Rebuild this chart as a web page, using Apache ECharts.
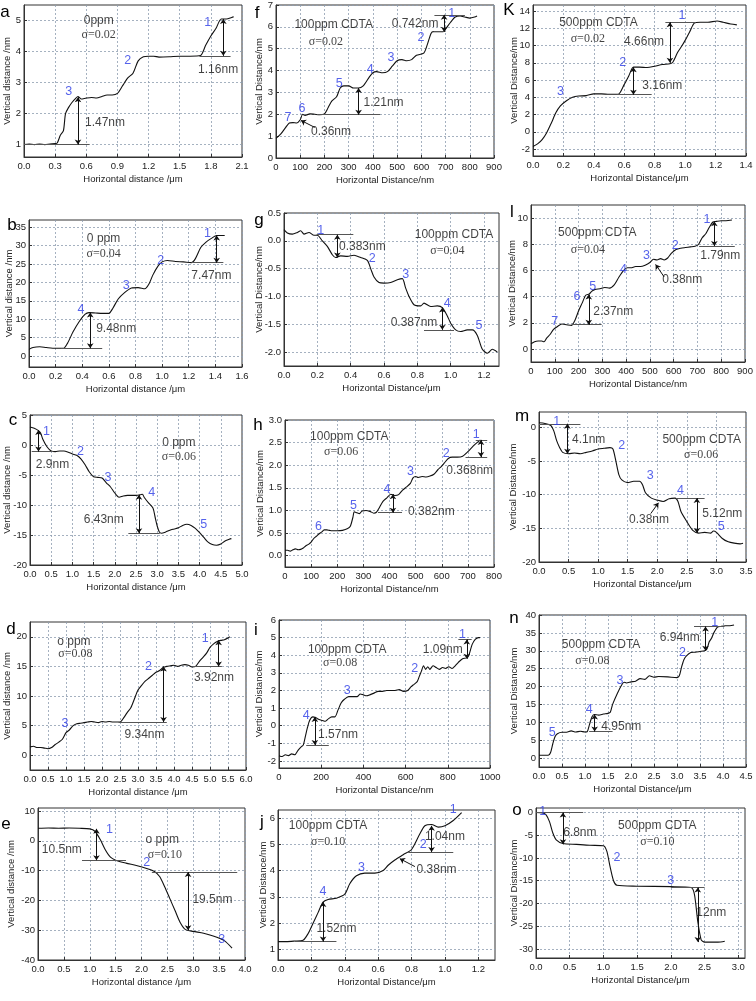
<!DOCTYPE html>
<html>
<head>
<meta charset="utf-8">
<script src="https://cdn.jsdelivr.net/npm/echarts@6.0.0/dist/echarts.min.js"></script>
<style>
html,body{margin:0;padding:0;background:#fff;}
#main{width:756px;height:1001px;}
</style>
</head>
<body>
<div id="main"></div>
<script>
// ---- panel a ----
const curveA = [[0,1.0],[0.05,1.02],[0.1,1.0],[0.15,1.02],[0.2,1.0],[0.25,1.02],[0.3,1.03],[0.32,1.05],[0.35,1.3],[0.38,1.45],[0.4,2.0],[0.43,2.2],[0.46,2.35],[0.5,2.5],[0.52,2.55],[0.55,2.47],[0.6,2.5],[0.65,2.52],[0.7,2.5],[0.75,2.55],[0.8,2.6],[0.85,2.6],[0.9,2.65],[0.95,2.9],[1.0,3.15],[1.05,3.3],[1.1,3.7],[1.15,3.83],[1.2,3.85],[1.25,3.85],[1.3,3.82],[1.4,3.83],[1.5,3.85],[1.6,3.85],[1.7,3.87],[1.75,4.2],[1.8,4.5],[1.85,4.75],[1.9,5.05],[1.95,5.05],[2.0,5.1],[2.02,5.12]];
const numsA = [[1.77,4.92,'1'],[1.0,3.71,'2'],[0.43,2.72,'3']];
const textA = [[1.87,3.41,'1.16nm'],[0.78,1.7,'1.47nm']];
const condA = [[0.72,5.0,'0ppm'],[0.72,4.55,'σ=0.02']];
const guideA = [[1.69,3.86,1.99,3.86],[0,1.0,0.63,1.0]];
const arrowA = [[1.92,5.05,3.86],[0.52,2.53,1.0]];
const xTicksA = [0,0.3,0.6,0.9,1.2,1.5,1.8,2.1];
const yTicksA = [1,2,3,4,5];

// ---- panel f ----
const curveF = [[0,0.9],[20,1.1],[40,1.4],[55,1.6],[70,1.62],[85,1.6],[100,1.75],[110,2.0],[120,1.95],[140,2.02],[160,2.0],[180,1.98],[200,2.02],[215,2.3],[230,2.6],[250,2.8],[265,3.2],[280,3.3],[300,3.3],[320,3.2],[340,3.2],[360,3.3],[385,3.7],[400,3.9],[415,3.95],[440,3.9],[460,3.95],[480,4.2],[500,4.45],[520,4.5],[540,4.45],[560,4.5],[580,4.7],[610,4.8],[625,5.2],[640,5.7],[650,5.78],[670,5.78],[690,5.78],[700,5.9],[720,6.2],[740,6.45],[760,6.5],[780,6.45],[800,6.4],[820,6.45],[830,6.5]];
const numsF = [[725,6.62,'1'],[599,5.52,'2'],[475,4.61,'3'],[389,4.03,'4'],[261,3.42,'5'],[107,2.28,'6'],[49,1.87,'7']];
const textF = [[574,6.16,'0.742nm'],[444,2.51,'1.21nm'],[227,1.22,'0.36nm']];
const condF = [[238,6.09,'100ppm CDTA'],[206,5.33,'σ=0.02']];
const guideF = [[654,6.55,780,6.55],[650,5.78,700,5.78],[169,1.98,430,1.98]];
const arrowF = [[694,6.55,5.78],[341,3.2,1.98]];
const pointF = [[160,1.4,103,1.72]];
const xTicksF = [0,100,200,300,400,500,600,700,800,900];
const yTicksF = [0,1,2,3,4,5,6,7];

// ---- panel K ----
const curveK = [[0,-1.7],[0.03,-1.4],[0.06,-0.9],[0.09,-0.1],[0.12,1.0],[0.15,2.2],[0.18,3.0],[0.22,3.6],[0.26,4.0],[0.3,4.15],[0.35,4.2],[0.4,4.4],[0.45,4.4],[0.5,4.35],[0.56,4.35],[0.6,5.5],[0.63,6.5],[0.66,7.5],[0.7,7.5],[0.75,7.45],[0.8,7.6],[0.85,7.8],[0.9,7.9],[0.92,8.1],[0.95,9.2],[0.98,10.0],[1.0,10.6],[1.03,11.6],[1.06,12.6],[1.1,12.7],[1.15,12.7],[1.21,12.85],[1.25,12.7],[1.3,12.5],[1.34,12.4]];
const numsK = [[0.98,13.5,'1'],[0.59,8.0,'2'],[0.18,4.7,'3']];
const textK = [[0.73,10.4,'4.66nm'],[0.85,5.4,'3.16nm']];
const condK = [[0.43,12.6,'500ppm CDTA'],[0.36,10.8,'σ=0.02']];
const guideK = [[0.87,12.7,1.07,12.7],[0.55,4.3,0.78,4.3]];
const arrowK = [[0.9,12.7,8.0],[0.66,7.5,4.3]];
const xTicksK = [0,0.2,0.4,0.6,0.8,1.0,1.2,1.4];
const yTicksK = [-2,0,2,4,6,8,10,12,14];

// ---- panel b ----
const curveB = [[0,1.8],[0.03,2.3],[0.08,2.5],[0.13,2.3],[0.2,2.1],[0.26,2.1],[0.29,3.5],[0.33,6.5],[0.38,9.5],[0.42,11.3],[0.45,11.8],[0.5,11.7],[0.55,11.6],[0.6,11.6],[0.63,13.0],[0.67,15.5],[0.72,17.3],[0.77,18.5],[0.82,18.6],[0.87,18.3],[0.9,19.5],[0.93,22.0],[0.97,24.5],[1.0,25.6],[1.04,26.0],[1.1,25.7],[1.16,25.6],[1.22,25.4],[1.25,26.5],[1.29,29.5],[1.33,31.0],[1.37,32.0],[1.41,32.8],[1.47,32.8]];
const numsB = [[1.34,33.2,'1'],[0.99,26.1,'2'],[0.73,19.3,'3'],[0.39,12.5,'4']];
const textB = [[1.37,21.8,'7.47nm'],[0.655,7.3,'9.48nm']];
const condB = [[0.56,31.8,'0 ppm'],[0.56,27.7,'σ=0.04']];
const guideB = [[1.22,25.4,1.46,25.4],[0.24,2.1,0.55,2.1]];
const arrowB = [[1.41,32.8,25.4],[0.46,11.8,2.1]];
const xTicksB = [0,0.2,0.4,0.6,0.8,1.0,1.2,1.4,1.6];
const yTicksB = [0,5,10,15,20,25,30,35];

// ---- panel g ----
const curveG = [[0,0.2],[0.02,0.14],[0.05,0.12],[0.08,0.15],[0.1,0.18],[0.12,0.12],[0.15,0.15],[0.18,0.1],[0.2,0.1],[0.23,0.0],[0.26,-0.1],[0.29,-0.25],[0.31,-0.3],[0.34,-0.27],[0.38,-0.28],[0.42,-0.26],[0.46,-0.3],[0.5,-0.35],[0.52,-0.5],[0.54,-0.65],[0.57,-0.75],[0.6,-0.76],[0.64,-0.75],[0.68,-0.7],[0.71,-0.68],[0.73,-0.85],[0.75,-1.0],[0.78,-1.15],[0.82,-1.17],[0.84,-1.12],[0.88,-1.18],[0.92,-1.17],[0.95,-1.2],[0.98,-1.35],[1.0,-1.48],[1.03,-1.6],[1.06,-1.63],[1.1,-1.6],[1.13,-1.6],[1.16,-1.7],[1.19,-1.95],[1.22,-2.02],[1.25,-1.95],[1.28,-2.0]];
const numsG = [[0.22,0.19,'1'],[0.53,-0.32,'2'],[0.73,-0.61,'3'],[0.98,-1.12,'4'],[1.17,-1.52,'5']];
const textG = [[0.47,-0.1,'0.383nm'],[0.78,-1.47,'0.387nm']];
const condG = [[1.02,0.11,'100ppm CDTA'],[0.98,-0.18,'σ=0.04']];
const guideG = [[0.196,0.11,0.416,0.11],[0.84,-1.6,1.02,-1.6]];
const arrowG = [[0.32,0.11,-0.3],[0.95,-1.2,-1.6]];
const xTicksG = [0,0.2,0.4,0.6,0.8,1.0,1.2];
const yTicksG = [-2.0,-1.5,-1.0,-0.5,0.0,0.5];

// ---- panel l ----
const curveL = [[0,0.4],[15,0.55],[30,0.6],[45,0.6],[55,0.55],[65,0.8],[80,1.1],[95,1.5],[110,1.7],[130,1.9],[150,1.85],[170,1.8],[185,2.2],[200,2.9],[215,3.5],[230,4.1],[245,4.2],[255,4.4],[270,4.55],[290,4.6],[310,4.7],[330,4.65],[350,4.9],[370,5.5],[390,6.0],[405,6.2],[420,6.2],[440,6.3],[460,6.3],[480,6.4],[500,6.6],[515,6.85],[530,6.8],[545,6.9],[560,6.8],[575,6.95],[590,7.3],[610,7.6],[630,7.7],[650,7.75],[670,7.8],[690,7.85],[705,8.0],[720,8.5],[735,8.8],[750,9.3],[765,9.7],[780,9.75],[800,9.8],[820,9.8],[845,9.85]];
const numsL = [[740,9.9,'1'],[607,7.9,'2'],[486,7.15,'3'],[389,6.1,'4'],[260,4.74,'5'],[193,4.03,'6'],[100,2.1,'7']];
const textL = [[796,7.1,'1.79nm'],[636,5.26,'0.38nm'],[346,2.87,'2.37nm']];
const condL = [[279,8.9,'500ppm CDTA'],[239,7.6,'σ=0.04']];
const guideL = [[707,7.87,857,7.87],[171,1.85,297,1.85]];
const arrowL = [[771,9.75,7.87],[243,4.15,1.85]];
const pointL = [[560,5.5,524,6.46]];
const xTicksL = [0,100,200,300,400,500,600,700,800,900];
const yTicksL = [0,2,4,6,8,10];

// ---- panel c ----
const curveC = [[0,3.0],[0.1,2.8],[0.2,2.4],[0.25,2.0],[0.3,1.0],[0.4,-0.3],[0.5,-1.0],[0.6,-1.1],[0.7,-1.0],[0.8,-1.0],[0.9,-1.2],[1.0,-1.5],[1.1,-1.7],[1.2,-2.3],[1.3,-3.3],[1.4,-4.5],[1.5,-5.3],[1.6,-5.4],[1.7,-5.5],[1.8,-6.3],[1.9,-7.0],[2.0,-8.0],[2.1,-8.7],[2.2,-8.5],[2.3,-8.4],[2.4,-8.4],[2.5,-8.4],[2.6,-8.3],[2.65,-8.2],[2.7,-8.8],[2.8,-9.7],[2.9,-10.5],[2.95,-12.0],[3.0,-13.5],[3.05,-14.5],[3.1,-14.7],[3.2,-14.5],[3.3,-14.2],[3.4,-14.0],[3.5,-13.8],[3.6,-13.4],[3.7,-13.2],[3.8,-13.4],[3.9,-13.9],[4.0,-14.6],[4.1,-15.4],[4.2,-16.2],[4.3,-16.6],[4.4,-16.7],[4.5,-16.5],[4.6,-16.0],[4.7,-15.7],[4.75,-15.6]];
const numsC = [[0.39,2.2,'1'],[1.19,-1.1,'2'],[1.84,-5.4,'3'],[2.87,-7.9,'4'],[4.1,-13.2,'5']];
const textC = [[0.53,-3.2,'2.9nm'],[1.74,-12.4,'6.43nm']];
const condC = [[3.51,0.4,'0 ppm'],[3.51,-1.9,'σ=0.06']];
const guideC = [[0.04,-1.1,0.55,-1.1],[2.32,-14.7,3.06,-14.7]];
const arrowC = [[0.2,2.5,-1.1],[2.57,-8.3,-14.7]];
const xTicksC = [0,0.5,1.0,1.5,2.0,2.5,3.0,3.5,4.0,4.5,5.0];
const yTicksC = [-20,-15,-10,-5,0,5];

// ---- panel h ----
const curveH = [[0,0.12],[10,0.12],[20,0.1],[30,0.13],[40,0.15],[50,0.13],[60,0.14],[70,0.17],[80,0.22],[90,0.25],[100,0.3],[110,0.38],[120,0.43],[130,0.48],[140,0.52],[150,0.57],[160,0.57],[170,0.56],[180,0.55],[200,0.55],[220,0.56],[240,0.6],[250,0.65],[260,0.85],[265,0.97],[275,0.95],[285,0.93],[295,0.99],[310,1.0],[325,0.98],[340,0.94],[350,0.96],[360,1.05],[375,1.2],[390,1.28],[405,1.36],[420,1.33],[435,1.35],[450,1.45],[465,1.52],[480,1.6],[490,1.72],[500,1.75],[510,1.73],[525,1.75],[540,1.74],[555,1.76],[570,1.8],[585,1.9],[600,1.98],[610,2.05],[625,2.15],[640,2.18],[660,2.18],[680,2.2],[700,2.3],[720,2.42],[735,2.5],[748,2.56]];
const numsH = [[732,2.68,'1'],[617,2.26,'2'],[480,1.87,'3'],[390,1.47,'4'],[262,1.11,'5'],[128,0.65,'6']];
const textH = [[707,1.87,'0.368nm'],[560,0.98,'0.382nm']];
const condH = [[246,2.63,'100ppm CDTA'],[215,2.3,'σ=0.06']];
const guideH = [[691,2.18,774,2.18],[730,2.56,774,2.56],[356,0.95,448,0.95]];
const arrowH = [[750,2.56,2.18],[413,1.36,0.95]];
const xTicksH = [0,100,200,300,400,500,600,700,800];
const yTicksH = [0,0.5,1.0,1.5,2.0,2.5,3.0];

// ---- panel m ----
const curveM = [[0,0.7],[0.1,0.6],[0.2,0.3],[0.25,-0.5],[0.3,-2.0],[0.35,-3.0],[0.4,-3.7],[0.5,-3.9],[0.6,-3.8],[0.7,-3.9],[0.8,-3.7],[0.9,-3.5],[1.0,-3.2],[1.1,-3.1],[1.2,-3.0],[1.25,-3.2],[1.3,-5.0],[1.35,-7.0],[1.4,-7.8],[1.5,-8.2],[1.6,-8.0],[1.7,-8.0],[1.75,-8.5],[1.8,-9.7],[1.9,-10.5],[2.0,-10.8],[2.1,-11.0],[2.2,-10.6],[2.3,-10.5],[2.35,-11.0],[2.4,-12.5],[2.5,-14.0],[2.6,-15.3],[2.7,-15.7],[2.8,-15.6],[2.9,-15.7],[2.95,-15.4],[3.0,-15.6],[3.1,-16.5],[3.2,-17.0],[3.3,-17.2],[3.4,-17.3],[3.45,-17.2]];
const numsM = [[0.3,0.84,'1'],[1.4,-2.7,'2'],[1.88,-7.2,'3'],[2.39,-9.4,'4'],[3.08,-14.8,'5']];
const textM = [[0.84,-1.8,'4.1nm'],[1.86,-13.7,'0.38nm'],[3.1,-12.8,'5.12nm']];
const condM = [[2.75,-1.8,'500ppm CDTA'],[2.74,-4.0,'σ=0.06']];
const guideM = [[0,0.55,0.7,0.55],[2.32,-10.5,2.8,-10.5]];
const arrowM = [[0.48,0.55,-3.9],[2.67,-10.5,-15.7]];
const pointM = [[1.89,-12.8,2.02,-11.2]];
const xTicksM = [0,0.5,1.0,1.5,2.0,2.5,3.0,3.5];
const yTicksM = [-20,-15,-10,-5,0];

// ---- panel d ----
const curveD = [[0,1.4],[0.1,1.5],[0.2,1.3],[0.3,1.3],[0.4,1.2],[0.5,1.1],[0.6,1.3],[0.7,1.8],[0.8,2.2],[0.9,2.7],[1.0,3.8],[1.1,4.3],[1.2,5.0],[1.3,5.3],[1.4,5.4],[1.5,5.5],[1.6,5.6],[1.7,5.7],[1.8,5.6],[1.9,5.5],[2.0,5.7],[2.1,5.6],[2.2,5.7],[2.3,5.6],[2.5,5.6],[2.6,6.3],[2.7,7.2],[2.8,8.0],[2.9,9.5],[3.0,11.0],[3.1,11.8],[3.2,12.5],[3.3,13.0],[3.4,13.5],[3.5,14.0],[3.6,14.3],[3.7,14.8],[3.8,15.0],[3.9,15.1],[4.0,15.2],[4.1,15.0],[4.2,15.2],[4.3,15.3],[4.4,15.2],[4.5,14.9],[4.6,15.0],[4.7,15.8],[4.8,16.5],[4.9,17.2],[5.0,18.2],[5.1,18.8],[5.2,19.2],[5.3,19.4],[5.4,19.5],[5.5,19.8],[5.55,20.0]];
const numsD = [[4.87,19.7,'1'],[3.29,14.9,'2'],[0.97,5.4,'3']];
const textD = [[5.11,13.1,'3.92nm'],[3.18,3.4,'9.34nm']];
const condD = [[1.22,19.2,'o ppm'],[1.26,17.1,'σ=0.08']];
const guideD = [[4.55,15.0,5.33,15.0],[2.46,5.6,3.8,5.6]];
const arrowD = [[5.24,19.4,15.0],[3.71,15.0,5.6]];
const xTicksD = [0,0.5,1.0,1.5,2.0,2.5,3.0,3.5,4.0,4.5,5.0,5.5,6.0];
const yTicksD = [0,5,10,15,20];

// ---- panel i ----
const curveI = [[0,-1.7],[15,-1.75],[30,-1.65],[45,-1.7],[60,-1.6],[75,-1.65],[90,-1.4],[105,-1.2],[115,-1.1],[125,-0.6],[135,-0.1],[145,0.3],[160,0.5],[175,0.45],[190,0.35],[205,0.3],[220,0.25],[235,0.4],[250,0.5],[265,0.5],[280,0.9],[295,1.3],[310,1.5],[330,1.65],[350,1.65],[370,1.65],[385,1.8],[400,1.75],[415,1.7],[430,1.75],[450,1.85],[470,1.95],[490,1.95],[510,2.0],[530,2.0],[550,2.0],[570,2.05],[590,1.95],[610,2.0],[625,2.2],[640,2.35],[655,2.5],[665,2.8],[675,3.1],[685,3.4],[695,3.2],[705,3.35],[715,3.2],[730,3.4],[745,3.3],[760,3.2],[775,3.3],[790,3.25],[805,3.35],[820,3.25],[835,3.4],[850,3.6],[870,3.8],[890,3.85],[900,4.0],[915,4.6],[930,4.9],[945,5.0],[953,5.0]];
const numsI = [[869,5.2,'1'],[643,3.26,'2'],[323,2.0,'3'],[129,0.58,'4']];
const textI = [[776,4.34,'1.09nm'],[280,-0.52,'1.57nm']];
const condI = [[323,4.34,'100ppm CDTA'],[290,3.54,'σ=0.08']];
const guideI = [[850,4.9,913,4.9],[129,-1.1,236,-1.1]];
const arrowI = [[890,4.9,3.8],[170,0.5,-1.1]];
const xTicksI = [0,200,400,600,800,1000];
const yTicksI = [-2,-1,0,1,2,3,4,5,6];

// ---- panel n ----
const curveN = [[0,0.8],[0.1,0.8],[0.2,0.8],[0.25,1.5],[0.3,4.0],[0.35,6.0],[0.4,6.8],[0.5,7.2],[0.6,7.2],[0.7,7.6],[0.8,7.3],[0.9,7.5],[1.0,7.3],[1.05,7.4],[1.1,9.5],[1.15,11.5],[1.2,12.2],[1.3,12.0],[1.4,12.3],[1.5,12.5],[1.55,12.8],[1.6,15.0],[1.7,18.0],[1.8,20.5],[1.85,21.2],[1.9,21.0],[2.0,21.3],[2.1,21.5],[2.2,22.2],[2.3,22.0],[2.4,23.0],[2.5,22.6],[2.6,22.8],[2.8,22.7],[3.0,22.5],[3.05,23.0],[3.1,25.5],[3.15,27.5],[3.2,28.5],[3.3,29.5],[3.4,29.6],[3.5,29.8],[3.6,30.0],[3.65,30.5],[3.7,32.5],[3.75,33.5],[3.8,35.0],[3.88,36.6],[3.95,36.8],[4.05,37.0],[4.15,37.0],[4.24,37.2]];
const numsN = [[3.82,37.8,'1'],[3.12,29.6,'2'],[1.76,21.7,'3'],[1.09,13.5,'4'],[0.29,7.2,'5']];
const textN = [[3.06,33.6,'6.94nm'],[1.79,8.9,'4.95nm']];
const condN = [[1.35,31.8,'500ppm CDTA'],[1.16,27.1,'σ=0.08']];
const guideN = [[3.37,36.8,4.03,36.8],[1.09,7.4,1.6,7.4]];
const arrowN = [[3.62,36.8,30.0],[1.21,12.2,7.4]];
const xTicksN = [0,0.5,1.0,1.5,2.0,2.5,3.0,3.5,4.0,4.5];
const yTicksN = [0,5,10,15,20,25,30,35,40];

// ---- panel e ----
const curveE = [[0,4.2],[0.2,4.3],[0.4,4.2],[0.6,4.3],[0.8,4.2],[1.0,4.0],[1.1,3.2],[1.2,0.5],[1.3,-3.0],[1.4,-5.5],[1.5,-6.5],[1.7,-7.5],[1.9,-8.3],[2.1,-9.3],[2.25,-10.3],[2.35,-12.0],[2.45,-15.5],[2.55,-19.5],[2.65,-23.5],[2.75,-27.5],[2.85,-29.8],[3.0,-30.4],[3.2,-31.0],[3.4,-32.0],[3.6,-33.5],[3.75,-36.0]];
const numsE = [[1.38,3.7,'1'],[2.1,-7.2,'2'],[3.55,-33.3,'3']];
const textE = [[0.46,-3.0,'10.5nm'],[3.37,-19.7,'19.5nm']];
const condE = [[2.4,0.3,'o ppm'],[2.45,-4.7,'σ=0.10']];
const guideE = [[0.85,-6.5,1.7,-6.5],[2.2,-10.5,3.85,-10.5]];
const arrowE = [[1.13,4.0,-6.5],[2.9,-10.5,-30.0]];
const xTicksE = [0,0.5,1.0,1.5,2.0,2.5,3.0,3.5,4.0];
const yTicksE = [-40,-30,-20,-10,0,10];

// ---- panel j ----
const curveJ = [[0,1.3],[0.05,1.3],[0.1,1.32],[0.15,1.35],[0.18,1.6],[0.21,2.0],[0.24,2.4],[0.27,2.8],[0.3,2.9],[0.35,2.95],[0.4,3.1],[0.43,3.5],[0.47,3.8],[0.52,3.9],[0.58,3.9],[0.63,4.0],[0.66,4.2],[0.7,4.4],[0.75,4.6],[0.8,4.8],[0.85,5.4],[0.88,5.7],[0.92,5.75],[0.96,5.65],[1.0,5.7],[1.05,5.9],[1.1,6.2]];
const numsJ = [[1.05,6.3,'1'],[0.87,5.0,'2'],[0.5,4.1,'3'],[0.27,3.2,'4']];
const textJ = [[0.35,1.8,'1.52nm'],[1.0,5.3,'1.04nm'],[0.95,4.05,'0.38nm']];
const condJ = [[0.3,5.7,'100ppm CDTA'],[0.3,5.1,'σ=0.10']];
const guideJ = [[0.1,1.3,0.35,1.3],[0.78,4.7,1.05,4.7]];
const arrowJ = [[0.27,2.8,1.3],[0.92,5.7,4.7]];
const pointJ = [[0.82,4.15,0.73,4.45]];
const xTicksJ = [0,0.2,0.4,0.6,0.8,1.0,1.2];
const yTicksJ = [1,2,3,4,5,6];

// ---- panel o ----
const curveO = [[0,0],[0.1,-0.1],[0.15,-0.5],[0.2,-2],[0.25,-4.5],[0.3,-6],[0.4,-6.8],[0.6,-7],[0.8,-7.2],[1.0,-7.3],[1.05,-8.5],[1.1,-12],[1.15,-15],[1.2,-16],[1.5,-16.2],[2.0,-16.3],[2.3,-16.5],[2.35,-18],[2.4,-24],[2.45,-28],[2.5,-28.5],[2.7,-28.5],[2.8,-28.3]];
const numsO = [[0.1,0.3,'1'],[1.2,-10,'2'],[2.0,-15,'3']];
const textO = [[0.65,-4.5,'6.8nm'],[2.6,-22,'12nm']];
const condO = [[1.8,-3,'500ppm CDTA'],[1.8,-6.5,'σ=0.10']];
const guideO = [[0,0,0.7,0],[2.0,-16.5,2.5,-16.5]];
const arrowO = [[0.4,0,-7],[2.4,-16.5,-28.5]];
const xTicksO = [0,0.5,1.0,1.5,2.0,2.5,3.0];
const yTicksO = [-30,-25,-20,-15,-10,-5,0];

const xNameLow = 'Horizontal distance /μm';
const xNameNm = 'Horizontal Distance/nm';
const xNameUm = 'Horizontal Distance/μm';
const yNameLow = 'Vertical distance /nm';
const yNameUp = 'Vertical Distance/nm';

const sans = 'Liberation Sans, Arial, sans-serif';
const serif = 'Liberation Serif, Times New Roman, serif';

// layout: box = [left, top, width, height], letter = [x, y]
const panels = [
  {id:'a', box:[24,5,218,152], letter:[5,12], curve:curveA, nums:numsA, notes:textA, cond:condA, guides:guideA, arrows:arrowA, points:[], xr:[0,2.1], yr:[0.6,5.5], xt:xTicksA, yt:yTicksA, xd:1, yd:0, xn:xNameLow, yn:yNameLow, yg:12},
  {id:'f', box:[276,5,218,153], letter:[257,13], curve:curveF, nums:numsF, notes:textF, cond:condF, guides:guideF, arrows:arrowF, points:pointF, xr:[0,900], yr:[0,7], xt:xTicksF, yt:yTicksF, xd:0, yd:0, xn:xNameNm, yn:yNameUp, yg:12},
  {id:'K', box:[533,5,213,151], letter:[509,10], curve:curveK, nums:numsK, notes:textK, cond:condK, guides:guideK, arrows:arrowK, points:[], xr:[0,1.4], yr:[-2.8,14.7], xt:xTicksK, yt:yTicksK, xd:1, yd:0, xn:xNameUm, yn:yNameUp, yg:14},
  {id:'b', box:[29,220,213,147], letter:[12,225], curve:curveB, nums:numsB, notes:textB, cond:condB, guides:guideB, arrows:arrowB, points:[], xr:[0,1.6], yr:[-3,37], xt:xTicksB, yt:yTicksB, xd:1, yd:0, xn:xNameLow, yn:yNameLow, yg:15},
  {id:'g', box:[284,213,215,153], letter:[259,220], curve:curveG, nums:numsG, notes:textG, cond:condG, guides:guideG, arrows:arrowG, points:[], xr:[0,1.29], yr:[-2.25,0.5], xt:xTicksG, yt:yTicksG, xd:1, yd:1, xn:xNameUm, yn:yNameUp, yg:20},
  {id:'l', box:[531,205,214,157], letter:[512,212], curve:curveL, nums:numsL, notes:textL, cond:condL, guides:guideL, arrows:arrowL, points:pointL, xr:[0,900], yr:[-1,11], xt:xTicksL, yt:yTicksL, xd:0, yd:0, xn:xNameNm, yn:yNameUp, yg:14},
  {id:'c', box:[30,415,212,150], letter:[13,420], curve:curveC, nums:numsC, notes:textC, cond:condC, guides:guideC, arrows:arrowC, points:[], xr:[0,5], yr:[-20,5], xt:xTicksC, yt:yTicksC, xd:1, yd:0, xn:xNameLow, yn:yNameLow, yg:18},
  {id:'h', box:[285,420,209,147], letter:[258,425], curve:curveH, nums:numsH, notes:textH, cond:condH, guides:guideH, arrows:arrowH, points:[], xr:[0,800], yr:[-0.25,3.0], xt:xTicksH, yt:yTicksH, xd:0, yd:1, xn:xNameNm, yn:yNameUp, yg:20},
  {id:'m', box:[539,412,207,150], letter:[522,416], curve:curveM, nums:numsM, notes:textM, cond:condM, guides:guideM, arrows:arrowM, points:pointM, xr:[0,3.5], yr:[-20,2.3], xt:xTicksM, yt:yTicksM, xd:1, yd:0, xn:xNameUm, yn:yNameUp, yg:21},
  {id:'d', box:[30,622,216,148], letter:[11,629], curve:curveD, nums:numsD, notes:textD, cond:condD, guides:guideD, arrows:arrowD, points:[], xr:[0,6], yr:[-2.5,22.5], xt:xTicksD, yt:yTicksD, xd:1, yd:0, xn:xNameLow, yn:yNameLow, yg:18},
  {id:'i', box:[279,620,211,148], letter:[256,630], curve:curveI, nums:numsI, notes:textI, cond:condI, guides:guideI, arrows:arrowI, points:[], xr:[0,1000], yr:[-2.4,6], xt:xTicksI, yt:yTicksI, xd:0, yd:0, xn:xNameNm, yn:yNameUp, yg:15},
  {id:'n', box:[539,615,207,152], letter:[514,618], curve:curveN, nums:numsN, notes:textN, cond:condN, guides:guideN, arrows:arrowN, points:[], xr:[0,4.5], yr:[-2.5,40], xt:xTicksN, yt:yTicksN, xd:1, yd:0, xn:xNameUm, yn:yNameUp, yg:20},
  {id:'e', box:[38,808,207,152], letter:[6,824], curve:curveE, nums:numsE, notes:textE, cond:condE, guides:guideE, arrows:arrowE, points:[], xr:[0,4], yr:[-40,11], xt:xTicksE, yt:yTicksE, xd:1, yd:0, xn:xNameLow, yn:yNameLow, yg:22},
  {id:'j', box:[278,810,217,150], letter:[262,822], curve:curveJ, nums:numsJ, notes:textJ, cond:condJ, guides:guideJ, arrows:arrowJ, points:pointJ, xr:[0,1.3], yr:[0.6,6.3], xt:xTicksJ, yt:yTicksJ, xd:1, yd:0, xn:xNameUm, yn:yNameUp, yg:10},
  {id:'o', box:[536,808,209,150], letter:[517,810], curve:curveO, nums:numsO, notes:textO, cond:condO, guides:guideO, arrows:arrowO, points:[], xr:[0,3.1], yr:[-32,1], xt:xTicksO, yt:yTicksO, xd:1, yd:0, xn:xNameUm, yn:yNameUp, yg:17}
];

const grids = [], xAxes = [], yAxes = [], series = [], graphics = [];
const splitStyle = {color:'#8e9eb0', type:[2,2], width:0.8};

panels.forEach((p, i) => {
  grids.push({left:p.box[0], top:p.box[1], width:p.box[2], height:p.box[3], show:true,
    borderColor:'#333', borderWidth:1, backgroundColor:'transparent', containLabel:false, outerBoundsMode:'none'});
  xAxes.push({gridIndex:i, type:'value', min:p.xr[0], max:p.xr[1],
    name:p.xn, nameLocation:'middle', nameGap:17, nameMoveOverlap:false,
    nameTextStyle:{fontSize:9.5, color:'#222', fontFamily:sans},
    axisLine:{show:true, onZero:false, lineStyle:{color:'#333'}},
    axisTick:{show:true, inside:true, length:3, customValues:p.xt, lineStyle:{color:'#333'}},
    axisLabel:{customValues:p.xt, formatter:v => Number(v).toFixed(p.xd), fontSize:9.5, color:'#222', margin:4, fontFamily:sans},
    splitLine:{show:true, lineStyle:splitStyle}});
  yAxes.push({gridIndex:i, type:'value', min:p.yr[0], max:p.yr[1],
    name:p.yn, nameLocation:'middle', nameRotate:90, nameGap:p.yg, nameMoveOverlap:false,
    nameTextStyle:{fontSize:9.5, color:'#222', fontFamily:sans},
    axisLine:{show:true, onZero:false, lineStyle:{color:'#333'}},
    axisTick:{show:true, inside:true, length:3, customValues:p.yt, lineStyle:{color:'#333'}},
    axisLabel:{customValues:p.yt, formatter:v => Number(v).toFixed(p.yd), fontSize:9.5, color:'#222', margin:3, fontFamily:sans},
    splitLine:{show:true, lineStyle:splitStyle}});

  series.push({type:'line', xAxisIndex:i, yAxisIndex:i, data:p.curve, symbol:'none', smooth:0.25,
    lineStyle:{color:'#111', width:1.1}, silent:true, z:3});
  series.push({type:'lines', coordinateSystem:'cartesian2d', xAxisIndex:i, yAxisIndex:i, silent:true, z:4,
    data:p.guides.map(g => ({coords:[[g[0],g[1]],[g[2],g[3]]]})),
    symbol:'none', lineStyle:{color:'#555', width:1, opacity:1, curveness:0}});
  series.push({type:'lines', coordinateSystem:'cartesian2d', xAxisIndex:i, yAxisIndex:i, silent:true, z:4,
    data:p.arrows.map(a => ({coords:[[a[0],a[1]],[a[0],a[2]]]})),
    symbol:['arrow','arrow'], symbolSize:5, lineStyle:{color:'#111', width:1, opacity:1, curveness:0}});
  if (p.points.length) {
    series.push({type:'lines', coordinateSystem:'cartesian2d', xAxisIndex:i, yAxisIndex:i, silent:true, z:4,
      data:p.points.map(a => ({coords:[[a[0],a[1]],[a[2],a[3]]]})),
      symbol:['none','arrow'], symbolSize:5, lineStyle:{color:'#111', width:1, opacity:1, curveness:0}});
  }
  const labels = [];
  p.nums.forEach(n => labels.push({value:[n[0],n[1]], name:n[2], label:{color:'#2b3be6', fontSize:12.5, fontFamily:sans}}));
  p.notes.forEach(n => labels.push({value:[n[0],n[1]], name:n[2], label:{color:'#111', fontSize:12, fontFamily:sans}}));
  p.cond.forEach(n => labels.push({value:[n[0],n[1]], name:n[2],
    label:n[2].startsWith('σ') ? {color:'#111', fontSize:12, fontFamily:serif} : {color:'#111', fontSize:12, fontFamily:sans}}));
  series.push({type:'scatter', xAxisIndex:i, yAxisIndex:i, silent:true, z:5, data:labels,
    symbolSize:1, itemStyle:{color:'rgba(0,0,0,0)'},
    label:{show:true, position:'inside', formatter:'{b}'}});

  graphics.push({type:'text', x:p.letter[0], y:p.letter[1],
    style:{text:p.id, fill:'#000', font:'17px ' + sans, textAlign:'center', textVerticalAlign:'middle'}});
});

const chart = echarts.init(document.getElementById('main'));
chart.setOption({
  animation:false,
  backgroundColor:'#fff',
  grid:grids,
  xAxis:xAxes,
  yAxis:yAxes,
  series:series,
  graphic:graphics
});
</script>
</body>
</html>
